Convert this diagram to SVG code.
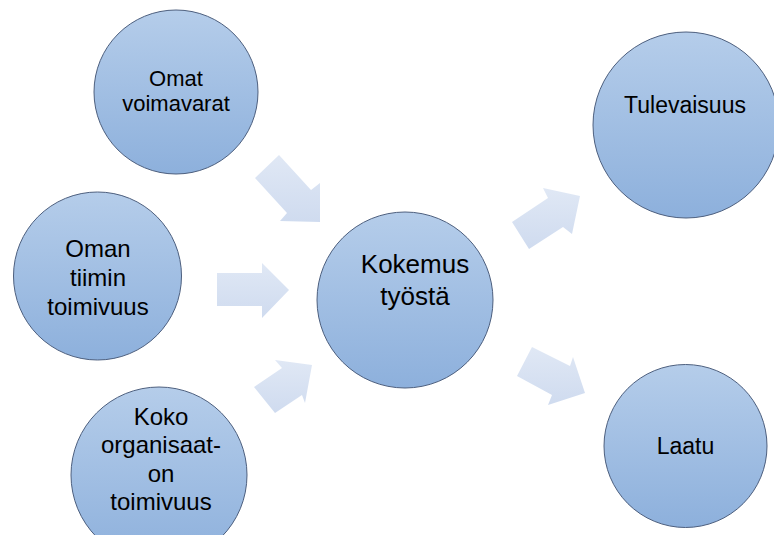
<svg xmlns="http://www.w3.org/2000/svg" width="774" height="535" viewBox="0 0 774 535">
  <defs>
    <linearGradient id="cg" x1="0" y1="0" x2="0" y2="1">
      <stop offset="0" stop-color="#b5cdea"/>
      <stop offset="1" stop-color="#8db0dc"/>
    </linearGradient>
    <linearGradient id="ag" x1="0" y1="0" x2="0" y2="1">
      <stop offset="0" stop-color="#e0e8f5"/>
      <stop offset="1" stop-color="#cfdbef"/>
    </linearGradient>
    <style>
      .node circle { fill: url(#cg); stroke: #4d5f7e; stroke-width: 1; }
      .node text { font-family: "Liberation Sans", Arial, sans-serif; fill: #000; text-anchor: middle; }
      .arrow { fill: url(#ag); stroke: none; }
    </style>
  </defs>
  <rect width="774" height="535" fill="#ffffff"/>

  <g id="connectors">
    <polygon class="arrow" points="255,178 279,155 311,190 320,183 320,222 280,221 287,213"/>
    <polygon class="arrow" points="217,273 262,273 262,263 289,290 262,318 262,306 217,306"/>
    <polygon class="arrow" points="254,387 275,413 302,395 305,403 312,365 275,360 282,368"/>
    <polygon class="arrow" points="512,222 529,249 563,227 572,234 580,196 543,188 548,198"/>
    <polygon class="arrow" points="532,347 517,376 552,395 548,405 585,393 573,357 570,366"/>
  </g>

  <g id="omat-voimavarat" class="node">
    <circle cx="176" cy="92" r="82"/>
    <text font-size="22"><tspan x="176" y="86">Omat</tspan><tspan x="176" y="111">voimavarat</tspan></text>
  </g>

  <g id="oman-tiimin-toimivuus" class="node">
    <circle cx="97.5" cy="276" r="84"/>
    <text font-size="24"><tspan x="98" y="257">Oman</tspan><tspan x="98" y="286">tiimin</tspan><tspan x="98" y="315">toimivuus</tspan></text>
  </g>

  <g id="koko-organisaation-toimivuus" class="node">
    <circle cx="159" cy="475" r="88"/>
    <text font-size="24"><tspan x="161" y="425">Koko</tspan><tspan x="161" y="453">organisaat-</tspan><tspan x="161" y="482">on</tspan><tspan x="161" y="510">toimivuus</tspan></text>
  </g>

  <g id="kokemus-tyosta" class="node">
    <circle cx="405" cy="300" r="88"/>
    <text font-size="26"><tspan x="415" y="273">Kokemus</tspan><tspan x="415" y="305">työstä</tspan></text>
  </g>

  <g id="tulevaisuus" class="node">
    <circle cx="686" cy="125" r="93"/>
    <text font-size="23"><tspan x="685" y="113">Tulevaisuus</tspan></text>
  </g>

  <g id="laatu" class="node">
    <circle cx="685.5" cy="446" r="81.5"/>
    <text font-size="23"><tspan x="685.5" y="454">Laatu</tspan></text>
  </g>
</svg>
